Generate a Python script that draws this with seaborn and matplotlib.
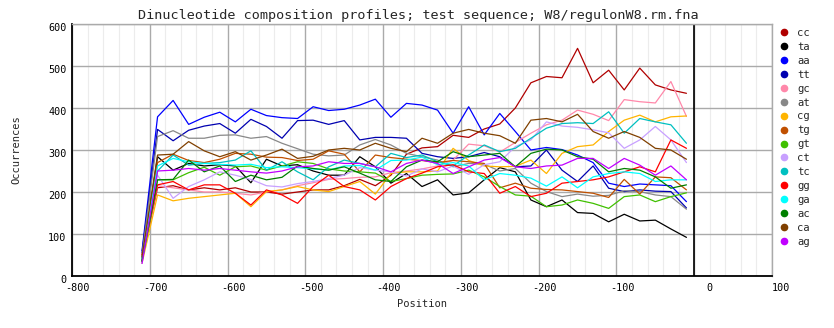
import matplotlib
matplotlib.use("Agg")
import matplotlib.pyplot as plt
import matplotlib.transforms as mtransforms
from matplotlib.lines import Line2D
import seaborn as sns
import pandas as pd

positions = [-710, -690, -670, -650, -630, -610, -590, -570, -550, -530,
             -510, -490, -470, -450, -430, -410, -390, -370, -350, -330,
             -310, -290, -270, -250, -230, -210, -190, -170, -150, -130,
             -110, -90, -70, -50, -30, -10]

cc = [40, 210, 215, 205, 210, 205, 210, 200, 200, 195, 200, 205, 205, 215, 230, 215, 240, 290, 305, 308,
      335, 330, 350, 362, 400, 460, 475, 472, 542, 460, 490, 443, 495, 455, 443, 435]
ta = [35, 284, 252, 268, 262, 265, 262, 222, 278, 262, 265, 250, 240, 240, 284, 260, 221, 244, 213, 229,
      193, 198, 229, 258, 248, 181, 165, 181, 151, 149, 129, 147, 131, 133, 112, 92]
aa = [60, 379, 418, 361, 378, 390, 367, 397, 382, 377, 375, 403, 394, 397, 407, 421, 378, 411, 407, 395,
      340, 403, 336, 387, 344, 300, 306, 301, 288, 270, 221, 213, 219, 217, 215, 177]
tt = [55, 349, 322, 347, 357, 363, 340, 373, 356, 328, 370, 371, 361, 370, 324, 330, 330, 328, 292, 284,
      280, 284, 294, 284, 260, 262, 300, 252, 225, 262, 209, 201, 205, 202, 201, 162]
gc = [45, 215, 210, 205, 200, 200, 197, 193, 200, 205, 215, 222, 230, 232, 235, 236, 246, 250, 255, 262,
      276, 314, 310, 295, 318, 340, 360, 371, 395, 385, 370, 420, 415, 412, 463, 380]
at = [50, 332, 346, 328, 328, 335, 336, 328, 332, 316, 303, 290, 286, 288, 312, 325, 312, 292, 284, 276,
      260, 268, 266, 250, 256, 221, 201, 189, 195, 190, 192, 203, 201, 193, 189, 159]
cg = [30, 193, 179, 185, 189, 193, 197, 165, 201, 205, 213, 205, 201, 213, 225, 195, 244, 248, 248, 250,
      304, 275, 262, 260, 261, 276, 244, 292, 308, 312, 344, 371, 383, 367, 379, 381]
tg = [40, 270, 290, 275, 270, 278, 292, 290, 283, 282, 275, 278, 298, 290, 248, 288, 282, 278, 275, 270,
      275, 272, 268, 210, 221, 209, 206, 205, 201, 197, 187, 230, 195, 236, 234, 205]
gt = [35, 229, 229, 246, 259, 240, 260, 262, 252, 262, 272, 268, 255, 250, 248, 245, 225, 232, 240, 242,
      243, 252, 236, 213, 193, 190, 165, 169, 181, 173, 161, 189, 193, 177, 189, 198]
ct = [30, 240, 185, 213, 229, 248, 240, 230, 215, 212, 220, 225, 232, 240, 258, 252, 248, 238, 255, 248,
      262, 242, 265, 272, 308, 324, 367, 357, 354, 348, 341, 304, 324, 356, 324, 270]
tc = [45, 250, 288, 264, 268, 270, 276, 298, 252, 272, 248, 229, 260, 276, 268, 260, 292, 282, 288, 272,
      262, 288, 312, 296, 304, 328, 352, 363, 365, 363, 391, 340, 375, 367, 360, 316]
gg = [50, 217, 225, 205, 217, 217, 197, 169, 205, 193, 173, 213, 240, 213, 205, 181, 213, 232, 245, 260,
      265, 248, 244, 197, 213, 189, 197, 221, 225, 229, 236, 248, 260, 248, 324, 304]
ga = [40, 262, 280, 272, 268, 266, 264, 266, 258, 260, 258, 255, 252, 262, 263, 252, 275, 276, 283, 265,
      270, 262, 229, 244, 240, 233, 214, 236, 210, 236, 244, 248, 244, 225, 229, 229]
ac = [35, 229, 230, 276, 248, 262, 225, 240, 229, 235, 262, 256, 252, 260, 245, 229, 225, 260, 276, 272,
      296, 284, 288, 292, 260, 292, 302, 300, 284, 278, 248, 256, 252, 236, 209, 217]
ca = [45, 288, 290, 320, 298, 284, 296, 276, 288, 302, 280, 285, 300, 304, 300, 316, 304, 296, 328, 316,
      340, 349, 340, 334, 316, 371, 375, 367, 385, 344, 328, 344, 330, 304, 300, 278]
ag = [30, 250, 252, 256, 252, 256, 252, 248, 245, 250, 260, 262, 272, 268, 268, 260, 248, 268, 276, 268,
      244, 260, 276, 282, 260, 256, 262, 264, 280, 280, 256, 280, 264, 240, 262, 229]

names = ["cc", "ta", "aa", "tt", "gc", "at", "cg", "tg", "gt", "ct", "tc", "gg", "ga", "ac", "ca", "ag"]
series = [cc, ta, aa, tt, gc, at, cg, tg, gt, ct, tc, gg, ga, ac, ca, ag]
colors = ["#b00000", "#000000", "#0000ff", "#0000b0", "#ff88aa", "#888888", "#ffb400", "#c05000",
          "#40c000", "#c8a0ff", "#00c0c0", "#ff0000", "#00ffff", "#008000", "#804000", "#c000ff"]

title = "Dinucleotide composition profiles; test sequence; W8/regulonW8.rm.fna"
xticks = [-800, -700, -600, -500, -400, -300, -200, -100, 0, 100]
yticks = [0, 100, 200, 300, 400, 500, 600]

rows = []
for n, s in zip(names, series):
    for p, v in zip(positions, s):
        rows.append({"Position": p, "Occurrences": v, "dinuc": n})
df = pd.DataFrame(rows)

sns.set_theme(style="white")
plt.rcParams["font.family"] = ["DejaVu Sans Mono", "DejaVu Sans"]

fig = plt.figure(figsize=(8.34, 3.28), dpi=100)
ax = fig.add_axes([72 / 834, 1 - 276 / 328, 700 / 834, 252 / 328])

ax.set_xlim(-800, 100)
ax.set_ylim(0, 600)
ax.set_xticks(xticks)
ax.set_xticks(list(range(-800, 101, 20)), minor=True)
ax.set_yticks(yticks)
ax.grid(which="minor", axis="x", color="#ececec", lw=0.8)
ax.grid(which="major", axis="both", color="#aaaaaa", lw=1.0)
ax.set_axisbelow(True)

sns.lineplot(data=df, x="Position", y="Occurrences", hue="dinuc", hue_order=names,
             palette=dict(zip(names, colors)), linewidth=0.9, legend=False, ax=ax,
             estimator=None, sort=False)

ax.axvline(0, color="black", lw=1.2)

for side in ["left", "bottom"]:
    ax.spines[side].set_color("black")
    ax.spines[side].set_linewidth(1.3)
for side in ["top", "right"]:
    ax.spines[side].set_color("#aaaaaa")
    ax.spines[side].set_linewidth(1.0)

ax.tick_params(axis="both", which="both", length=0, labelsize=7.3, colors="black")
ax.tick_params(axis="x", pad=5)
ax.tick_params(axis="y", pad=4)
ax.set_xticklabels([str(t) for t in xticks])
ax.set_yticklabels([str(t) for t in yticks])
offx = mtransforms.ScaledTranslation(0.18, 0, fig.dpi_scale_trans)
for lab in ax.get_xticklabels():
    lab.set_horizontalalignment("right")
    lab.set_transform(lab.get_transform() + offx)
offy = mtransforms.ScaledTranslation(0, -0.03, fig.dpi_scale_trans)
for lab in ax.get_yticklabels():
    lab.set_transform(lab.get_transform() + offy)

ax.set_xlabel("Position", fontsize=7.5)
ax.set_ylabel("Occurrences", fontsize=7.5)
ax.xaxis.set_label_coords(0.5, -0.093)
ax.yaxis.set_label_coords(-0.072, 0.5)

fig.text(418 / 834, 1 - 16 / 328, title, ha="center", va="center", fontsize=9.7)

handles = [Line2D([], [], color=c, marker="o", markersize=4.5, linestyle="none") for c in colors]
leg = fig.legend(handles, names, loc="upper left", bbox_to_anchor=(778.5 / 834, 1 - 28 / 328),
                 frameon=False, fontsize=7.6, handlelength=1.0, handletextpad=0.75,
                 labelspacing=0.37, borderpad=0, borderaxespad=0)

fig.savefig("out.png", dpi=100)
